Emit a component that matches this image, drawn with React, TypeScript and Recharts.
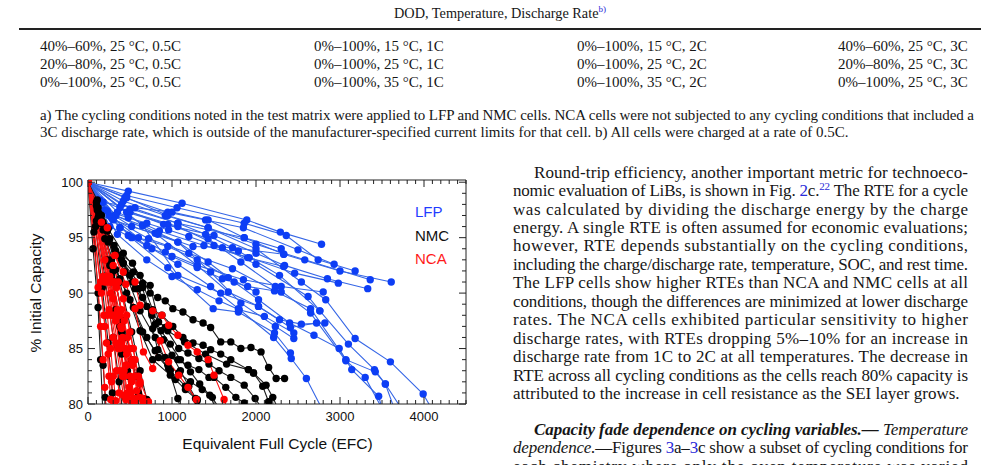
import React from 'react';
import { LineChart, Line, XAxis, YAxis } from 'recharts';

type Pt = [number, number];

// ---------- chart data (EFC, % initial capacity) ----------
const lfpSeries: Pt[][] = [
  [[0, 100], [480, 99.2], [1120, 98.1], [1890, 96.6], [2290, 95.5], [2780, 94.4]],
  [[0, 100], [460, 98.8], [1060, 97.7], [1860, 96.3], [2360, 95.2], [2740, 93.0], [3180, 92.0]],
  [[0, 100], [440, 98.6], [950, 97.3], [1400, 96.6], [1850, 95.9], [2500, 93.9], [2930, 92.6]],
  [[0, 100], [420, 98.3], [920, 97.0], [1430, 95.9], [2000, 94.4], [2580, 93.0], [3360, 91.2]],
  [[0, 100], [400, 98.0], [1070, 96.3], [1860, 95.0], [2330, 93.5], [3000, 92.0], [3610, 91.0]],
  [[0, 100], [380, 97.7], [900, 96.2], [1500, 95.2], [2000, 93.6], [2340, 92.5], [2850, 91.3], [3330, 90.4]],
  [[0, 100], [350, 97.3], [850, 95.6], [1380, 94.3], [1920, 93.2], [2460, 91.8], [2980, 90.9]],
  [[0, 100], [330, 97.0], [800, 95.4], [1300, 92.5], [1850, 91.2], [2300, 90.6], [2800, 90.1]],
  [[0, 100], [140, 98.4], [500, 97.3], [1070, 96.0], [1600, 94.1], [2000, 92.6], [2620, 89.7], [2760, 88.4]],
  [[0, 100], [120, 98.0], [380, 95.9], [700, 94.3], [1070, 92.6], [1460, 90.6], [1790, 88.6], [2210, 86.0], [2420, 84.1], [2600, 82.3], [2790, 79.5]],
  [[0, 100], [320, 97.0], [650, 96.1], [1070, 94.6], [1430, 92.8], [1740, 91.0], [2030, 89.4], [2400, 87.3], [2690, 86.2], [2990, 85.0], [3140, 83.1], [3460, 80.7], [3500, 79.6]],
  [[0, 100], [460, 97.3], [950, 96.2], [1430, 94.9], [1820, 92.8], [2230, 90.6], [2650, 88.2], [3070, 83.9], [3300, 82.4], [3500, 79.6]],
  [[0, 100], [500, 97.6], [1070, 96.3], [1400, 95.3], [1790, 93.8], [2280, 91.6], [2760, 88.4], [3100, 85.4], [3410, 83.1], [3540, 81.8], [3730, 79.6]],
  [[0, 100], [460, 98.6], [950, 97.0], [1430, 95.9], [2000, 94.0], [2540, 91.0], [2830, 89.4], [3180, 85.9], [3600, 83.8], [3990, 80.9], [4090, 79.6]],
  [[0, 100], [380, 95.9], [920, 93.7], [1300, 92.5], [1670, 90.1], [2030, 88.8], [2410, 86.9], [2720, 87.3]],
  [[0, 100], [480, 95.2], [950, 92.3], [1490, 88.6], [1790, 88.3], [2220, 86.4], [2410, 84.6]],
  [[0, 100], [300, 96.6], [1070, 94.6], [1460, 91.9], [1820, 89.1], [2230, 87.0], [2450, 85.9]],
  [[0, 100], [650, 96.1], [1070, 91.6], [1580, 90.0], [2030, 88.8], [2280, 87.6], [2540, 87.2], [2820, 87.3]],
  [[0, 100], [280, 96.8], [720, 94.9], [1200, 93.6], [1720, 92.2], [2220, 90.2], [2650, 88.6], [3070, 84.0], [3420, 82.9], [3540, 81.8], [3650, 79.5]],
  [[0, 100], [200, 97.5], [520, 96.0], [830, 95.3], [1250, 94.2], [1720, 94.1], [2330, 93.5]],
  [[0, 100], [250, 97.0], [600, 95.0], [950, 94.2], [1300, 93.0], [1670, 91.4], [2000, 90.1]],
  [[0, 100], [180, 98.2], [560, 97.7], [1000, 97.3], [1430, 96.6], [1860, 95.0], [2300, 94.0]],
  [[0, 100], [230, 97.4], [480, 96.8], [700, 96.3], [960, 95.7], [1200, 95.1], [1500, 94.3], [1900, 93.2], [2330, 92.4]],
  [[0, 100], [260, 96.0], [520, 95.0], [760, 94.0], [1000, 93.3], [1300, 92.3], [1600, 91.3], [1900, 90.6], [2300, 90.1]],
  [[0, 100], [350, 95.3], [700, 93.0], [1000, 91.5], [1300, 90.3], [1560, 89.3], [1800, 88.5], [2100, 87.9], [2450, 86.4]],
];

const nmcSeries: Pt[][] = [
  [[0, 100], [110, 98.4], [240, 95.8], [420, 93.6], [620, 91.6], [740, 90.0], [830, 89.6], [920, 89.3], [1010, 88.6], [1130, 88.3], [1250, 87.6], [1370, 87.3], [1460, 86.9], [1580, 85.6], [1700, 85.6], [1820, 85.0], [1940, 85.1], [2060, 84.7], [2150, 83.3], [2240, 82.3], [2340, 82.3]],
  [[0, 100], [120, 97.7], [320, 93.9], [530, 92.7], [650, 90.9], [770, 88.5], [880, 88.0], [1010, 87.0], [1130, 86.0], [1250, 85.5], [1370, 85.3], [1460, 84.9], [1580, 84.5], [1700, 84.0], [1910, 83.1], [1970, 82.8], [2120, 81.7], [2200, 80.6], [2260, 79.6]],
  [[0, 100], [140, 96.8], [360, 93.4], [540, 91.9], [740, 90.7], [840, 87.4], [920, 86.9], [1080, 85.0], [1190, 84.6], [1320, 84.1], [1440, 83.6], [1560, 83.0], [1700, 82.4], [1860, 81.7], [1990, 80.5], [2070, 79.6]],
  [[0, 100], [180, 95.7], [420, 92.7], [650, 90.5], [770, 86.8], [830, 84.9], [920, 84.2], [1070, 84.0], [1190, 83.5], [1320, 83.1], [1440, 82.4], [1500, 82.4], [1640, 81.5], [1760, 80.6], [1860, 80.1], [1900, 79.5]],
  [[0, 100], [240, 94.6], [440, 91.9], [620, 88.4], [800, 86.0], [950, 83.5], [1080, 82.8], [1220, 82.0], [1360, 81.3], [1480, 80.6], [1560, 79.6]],
  [[0, 100], [100, 97.9], [280, 93.0], [460, 90.0], [620, 86.6], [770, 84.0], [980, 82.6], [1040, 82.2], [1160, 81.3], [1280, 80.5], [1340, 79.6]],
  [[0, 100], [150, 96.3], [330, 92.1], [500, 89.4], [650, 86.5], [800, 84.8], [960, 83.2], [1070, 80.5], [1100, 79.6]],
  [[0, 100], [130, 97.2], [330, 93.8], [560, 90.4], [760, 88.2], [950, 86.6], [1150, 85.6], [1400, 84.5], [1650, 83.6], [1910, 83.1], [1970, 82.8], [2080, 81.6], [2150, 80.2], [2170, 79.6]],
  [[0, 100], [200, 94.9], [380, 91.3], [540, 88.7], [700, 86.0], [840, 84.2], [980, 83.0], [1160, 81.6], [1300, 80.4], [1340, 79.6]],
  [[0, 100], [110, 97.7], [180, 96.4], [260, 94.9], [330, 93.6], [420, 92.7], [530, 91.0], [650, 89.6], [760, 88.0], [870, 86.6], [980, 85.4], [1100, 84.0], [1220, 82.9], [1330, 81.8], [1450, 80.8], [1520, 79.6]],
  [[0, 100], [100, 98.2], [160, 97.0], [230, 95.6], [310, 94.3], [400, 93.0], [500, 91.6], [600, 90.4], [700, 88.8], [800, 87.2], [900, 85.8], [1000, 84.4], [1100, 83.0], [1200, 81.6], [1300, 80.3], [1340, 79.6]],
  [[0, 100], [60, 94.0], [120, 88.7], [150, 84.0], [175, 79.5]],
  [[0, 100], [70, 95.5], [120, 90.0], [180, 83.5], [205, 80.6], [215, 79.5]],
  [[0, 100], [90, 96.0], [170, 90.5], [240, 85.5], [290, 81.0], [310, 79.5]],
  [[0, 100], [100, 96.5], [200, 91.5], [300, 86.0], [370, 82.0], [410, 79.5]],
  [[0, 100], [110, 97.5], [230, 93.0], [330, 88.5], [400, 84.5], [440, 80.6], [460, 79.5]],
  [[0, 100], [130, 97.0], [260, 92.5], [380, 87.0], [470, 83.0], [530, 80.3], [550, 79.5]],
  [[0, 100], [150, 97.0], [300, 92.0], [420, 87.5], [520, 84.0], [600, 81.0], [640, 79.5]],
  [[0, 100], [160, 96.5], [330, 91.0], [460, 86.0], [570, 82.5], [650, 80.5], [680, 79.5]],
  [[0, 100], [120, 96.8], [280, 91.5], [400, 86.5], [480, 82.5], [540, 79.5]],
  [[0, 100], [200, 96.0], [380, 91.0], [520, 86.5], [620, 83.0], [700, 80.4], [740, 79.5]],
];

const ncaSeries: Pt[][] = [
  [[0, 100], [230, 95.9], [320, 93.4], [420, 91.9], [560, 91.0], [620, 88.9], [770, 88.4], [880, 88.0], [960, 87.1], [1070, 86.2], [1190, 85.3], [1300, 84.7], [1430, 84.0], [1500, 82.6], [1620, 80.4], [1660, 79.5]],
  [[0, 100], [160, 96.4], [320, 93.4], [450, 90.8], [560, 88.6], [660, 84.7], [770, 83.2], [860, 85.7], [960, 83.8], [1080, 82.6], [1190, 81.5], [1290, 80.4], [1330, 79.5]],
  [[0, 100], [260, 91.5], [400, 86.8], [520, 84.0], [620, 82.0], [720, 80.2], [740, 79.5]],
  [[0, 100], [120, 90.5], [150, 87.0], [180, 84.0], [200, 81.5], [215, 79.5]],
  [[0, 100], [150, 91.0], [190, 88.0], [220, 85.5], [250, 82.5], [270, 80.4], [280, 79.5]],
  [[0, 100], [180, 91.5], [230, 88.0], [270, 85.0], [300, 82.5], [330, 80.3], [340, 79.5]],
  [[0, 100], [200, 91.0], [250, 88.5], [300, 86.0], [340, 83.0], [370, 81.0], [390, 79.5]],
  [[0, 100], [220, 91.5], [280, 88.0], [330, 85.5], [380, 83.0], [420, 80.8], [440, 79.5]],
  [[0, 100], [230, 91.0], [300, 88.0], [360, 85.0], [410, 82.5], [450, 80.4], [470, 79.5]],
  [[0, 100], [250, 91.5], [320, 88.0], [380, 85.5], [430, 83.0], [470, 81.0], [490, 79.5]],
  [[0, 100], [260, 91.0], [340, 88.0], [400, 85.5], [450, 83.5], [490, 81.5], [520, 80.2], [530, 79.5]],
  [[0, 100], [280, 91.0], [350, 88.5], [410, 86.0], [460, 83.5], [510, 81.0], [540, 79.5]],
  [[0, 100], [300, 91.0], [380, 88.0], [440, 85.0], [500, 82.5], [550, 80.5], [570, 79.5]],
  [[0, 100], [320, 91.0], [400, 88.5], [470, 86.0], [530, 83.5], [580, 81.2], [610, 79.5]],
  [[0, 100], [340, 90.5], [430, 87.5], [500, 85.0], [560, 82.5], [610, 80.6], [630, 79.5]],
  [[0, 100], [360, 91.0], [460, 88.0], [540, 85.0], [600, 82.5], [650, 80.5], [680, 79.5]],
  [[0, 100], [270, 90.0], [330, 87.5], [380, 85.0], [430, 82.5], [470, 80.5], [490, 79.5]],
  [[0, 100], [160, 90.0], [200, 87.0], [240, 84.5], [280, 82.0], [310, 80.0], [320, 79.5]],
  [[0, 100], [200, 93.0], [300, 89.5], [390, 87.0], [460, 84.5], [520, 82.0], [560, 80.2], [570, 79.5]],
  [[0, 100], [300, 92.5], [420, 89.5], [500, 86.5], [560, 84.0], [620, 81.8], [660, 80.2], [670, 79.5]],
];

const xLabels = [0, 1000, 2000, 3000, 4000];
const yLabels = [80, 85, 90, 95, 100];
const xTicks = Array.from({ length: 46 }, (_, i) => i * 100);
const yTicks = Array.from({ length: 21 }, (_, i) => 80 + i);

const legendItems = [
  { name: 'LFP', color: '#1f3cff' },
  { name: 'NMC', color: '#111111' },
  { name: 'NCA', color: '#ff1a1a' },
];

const tableRows = [
  ['40%–60%, 25 °C, 0.5C', '0%–100%, 15 °C, 1C', '0%–100%, 15 °C, 2C', '40%–60%, 25 °C, 3C'],
  ['20%–80%, 25 °C, 0.5C', '0%–100%, 25 °C, 1C', '0%–100%, 25 °C, 2C', '20%–80%, 25 °C, 3C'],
  ['0%–100%, 25 °C, 0.5C', '0%–100%, 35 °C, 1C', '0%–100%, 35 °C, 2C', '0%–100%, 25 °C, 3C'],
];

// ---------- styling ----------
const serif = '"Liberation Serif", "Times New Roman", serif';
const sans = '"Liberation Sans", Arial, sans-serif';
const AX = '#222';
const LINK = '#2a2ad8';
const INK = '#161616';

type Seg = { t: string; c?: string; sup?: boolean; b?: boolean; i?: boolean };

const bodyLines: { x: number; w: number; cy: number; justify: boolean; segs: Seg[] }[] = [
  { x: 534, w: 434, cy: 172, justify: true, segs: [{ t: 'Round-trip efficiency, another important metric for technoeco-' }] },
  { x: 513, w: 455, cy: 190.5, justify: true, segs: [{ t: 'nomic evaluation of LiBs, is shown in Fig. ' }, { t: '2', c: LINK }, { t: 'c.' }, { t: '22', c: LINK, sup: true }, { t: ' The RTE for a cycle' }] },
  { x: 513, w: 455, cy: 209, justify: true, segs: [{ t: 'was calculated by dividing the discharge energy by the charge' }] },
  { x: 513, w: 455, cy: 227.4, justify: true, segs: [{ t: 'energy. A single RTE is often assumed for economic evaluations;' }] },
  { x: 513, w: 455, cy: 245.8, justify: true, segs: [{ t: 'however, RTE depends substantially on the cycling conditions,' }] },
  { x: 513, w: 455, cy: 264.3, justify: true, segs: [{ t: 'including the charge/discharge rate, temperature, SOC, and rest time.' }] },
  { x: 513, w: 455, cy: 282.7, justify: true, segs: [{ t: 'The LFP cells show higher RTEs than NCA and NMC cells at all' }] },
  { x: 513, w: 455, cy: 301.2, justify: true, segs: [{ t: 'conditions, though the differences are minimized at lower discharge' }] },
  { x: 513, w: 455, cy: 319.6, justify: true, segs: [{ t: 'rates. The NCA cells exhibited particular sensitivity to higher' }] },
  { x: 513, w: 455, cy: 338, justify: true, segs: [{ t: 'discharge rates, with RTEs dropping 5%–10% for an increase in' }] },
  { x: 513, w: 455, cy: 356.5, justify: true, segs: [{ t: 'discharge rate from 1C to 2C at all temperatures. The decrease in' }] },
  { x: 513, w: 455, cy: 375, justify: true, segs: [{ t: 'RTE across all cycling conditions as the cells reach 80% capacity is' }] },
  { x: 513, w: 449, cy: 393.4, justify: false, segs: [{ t: 'attributed to the increase in cell resistance as the SEI layer grows.' }] },
  { x: 534, w: 434, cy: 429, justify: true, segs: [{ t: 'Capacity fade dependence on cycling variables.—', b: true, i: true }, { t: ' Temperature', i: true }] },
  { x: 513, w: 455, cy: 447.5, justify: true, segs: [{ t: 'dependence.', i: true }, { t: '—Figures ' }, { t: '3', c: LINK }, { t: 'a–' }, { t: '3', c: LINK }, { t: 'c show a subset of cycling conditions for' }] },
  { x: 513, w: 455, cy: 466, justify: true, segs: [{ t: 'each chemistry where only the oven temperature was varied' }] },
];

const footLines: { x: number; w: number; cy: number; justify: boolean; segs: Seg[] }[] = [
  { x: 40, w: 934, cy: 115, justify: true, segs: [{ t: 'a) The cycling conditions noted in the test matrix were applied to LFP and NMC cells. NCA cells were not subjected to any cycling conditions that included a' }] },
  { x: 40, w: 822, cy: 132.5, justify: false, segs: [{ t: '3C discharge rate, which is outside of the manufacturer-specified current limits for that cell. b) All cells were charged at a rate of 0.5C.' }] },
];

function SvgLine(props: { x: number; w: number; cy: number; justify: boolean; segs: Seg[]; size: number }) {
  const { x, w, cy, justify, segs, size } = props;
  let shifted = false;
  const spans = segs.map((s, k) => {
    let dy: number | undefined;
    if (s.sup && !shifted) { dy = -size * 0.38; shifted = true; }
    else if (!s.sup && shifted) { dy = size * 0.38; shifted = false; }
    return (
      <tspan key={k} dy={dy} fill={s.c || INK} fontSize={s.sup ? size * 0.65 : size}
        fontWeight={s.b ? 'bold' : 'normal'} fontStyle={s.i ? 'italic' : 'normal'}>{s.t}</tspan>
    );
  });
  return (
    <text x={x} y={cy + size * 0.33} fontFamily={serif} fontSize={size} fill={INK}
      textLength={justify ? w : undefined} lengthAdjust={justify ? 'spacing' : undefined}
      style={{ whiteSpace: 'pre' }}>
      {spans}
    </text>
  );
}

const toData = (s: Pt[]) => s.map(([x, y]) => ({ x, y }));

function BottomTick(props: any) {
  const { x, y, payload } = props;
  const v = Number(payload.value);
  const major = xLabels.includes(v);
  return (
    <g>
      <line x1={x} y1={y} x2={x} y2={y - (major ? 7 : 4)} stroke={AX} strokeWidth={1} />
      {major ? (
        <text x={x} y={y + 17} textAnchor="middle" fontSize={13} fontFamily={sans} fill="#111">{v}</text>
      ) : null}
    </g>
  );
}
function TopTick(props: any) {
  const { x, y, payload } = props;
  const major = xLabels.includes(Number(payload.value));
  return <line x1={x} y1={y} x2={x} y2={y + (major ? 7 : 4)} stroke={AX} strokeWidth={1} />;
}
function LeftTick(props: any) {
  const { x, y, payload } = props;
  const v = Number(payload.value);
  const major = yLabels.includes(v);
  return (
    <g>
      <line x1={x} y1={y} x2={x + (major ? 7 : 4)} y2={y} stroke={AX} strokeWidth={1} />
      {major ? (
        <text x={x - 5} y={y + 4.6} textAnchor="end" fontSize={13} fontFamily={sans} fill="#111">{v}</text>
      ) : null}
    </g>
  );
}
function RightTick(props: any) {
  const { x, y, payload } = props;
  const major = yLabels.includes(Number(payload.value));
  return <line x1={x} y1={y} x2={x - (major ? 7 : 4)} y2={y} stroke={AX} strokeWidth={1} />;
}

function renderSeries(series: Pt[][], prefix: string, lineColor: string, dotColor: string, r: number) {
  return series.map((s, i) => (
    <Line
      key={prefix + i}
      data={toData(s)}
      dataKey="y"
      type="linear"
      stroke={lineColor}
      strokeWidth={1.1}
      dot={{ r, fill: dotColor, stroke: dotColor, strokeWidth: 0 }}
      activeDot={false}
      isAnimationActive={false}
      legendType="none"
    />
  ));
}

export default function App() {
  return (
    <div style={{ position: 'absolute', left: 0, top: 0, width: 1000, height: 465, overflow: 'hidden', background: '#fff', fontFamily: serif, color: INK }}>
      {/* table header */}
      <div style={{ position: 'absolute', left: 0, width: 1000, top: 4, textAlign: 'center', fontSize: 14.3, lineHeight: '18px' }}>
        DOD, Temperature, Discharge Rate<span style={{ color: LINK, fontSize: 9, position: 'relative', top: -6 }}>b)</span>
      </div>
      <div style={{ position: 'absolute', left: 19, top: 28, width: 962, height: 2, background: '#222' }} />
      {tableRows.map((row, r) =>
        row.map((cell, c) => (
          <div key={`t${r}-${c}`} style={{ position: 'absolute', left: [40, 314, 577, 838][c], top: [37, 55, 73][r], fontSize: 15, lineHeight: '18px', whiteSpace: 'nowrap' }}>
            {cell}
          </div>
        ))
      )}

      <svg width={1000} height={465} style={{ position: 'absolute', left: 0, top: 0 }}>
        {footLines.map((l, i) => <SvgLine key={`f${i}`} {...l} size={15} />)}
        {bodyLines.map((l, i) => <SvgLine key={`b${i}`} {...l} size={17} />)}
      </svg>

      {/* chart */}
      <div style={{ position: 'absolute', left: 0, top: 170, width: 480, height: 295 }}>
        <LineChart width={480} height={295} margin={{ top: 9, right: 13, bottom: 31, left: 0 }}>
          <XAxis dataKey="x" type="number" domain={[0, 4500]} allowDataOverflow ticks={xTicks} interval={0}
            tickSize={0} tickMargin={0} tickLine={false} tick={<BottomTick />} axisLine={{ stroke: AX }} height={30} />
          <XAxis xAxisId="top" orientation="top" dataKey="x" type="number" domain={[0, 4500]} allowDataOverflow ticks={xTicks} interval={0}
            tickSize={0} tickMargin={0} tickLine={false} tick={<TopTick />} axisLine={{ stroke: AX }} height={1} />
          <YAxis type="number" domain={[80, 100.2]} allowDataOverflow ticks={yTicks} interval={0}
            tickSize={0} tickMargin={0} tickLine={false} tick={<LeftTick />} axisLine={{ stroke: AX }} width={88} />
          <YAxis yAxisId="right" orientation="right" type="number" domain={[80, 100.2]} allowDataOverflow ticks={yTicks} interval={0}
            tickSize={0} tickMargin={0} tickLine={false} tick={<RightTick />} axisLine={{ stroke: AX }} width={1} />
          {renderSeries(lfpSeries, 'lfp', '#3566e6', '#0d3ef5', 3.7)}
          {renderSeries(nmcSeries, 'nmc', '#1c1c1c', '#000000', 3.7)}
          {renderSeries(ncaSeries, 'nca', '#ff1414', '#ff0000', 3.7)}
        </LineChart>
        {legendItems.map((it, i) => (
          <div key={it.name} style={{ position: 'absolute', left: 415, top: 33 + i * 23.5, fontFamily: sans, fontSize: 15, lineHeight: '18px', color: it.color }}>
            {it.name}
          </div>
        ))}
      </div>
      <div style={{ position: 'absolute', left: 36, top: 293, transform: 'translate(-50%, -50%) rotate(-90deg)', fontFamily: sans, fontSize: 15.5, lineHeight: '18px', whiteSpace: 'nowrap', color: '#111' }}>
        % Initial Capacity
      </div>
      <div style={{ position: 'absolute', left: 0, width: 555, top: 435, textAlign: 'center', fontFamily: sans, fontSize: 15.5, lineHeight: '18px', color: '#111' }}>
        Equivalent Full Cycle (EFC)
      </div>
    </div>
  );
}
